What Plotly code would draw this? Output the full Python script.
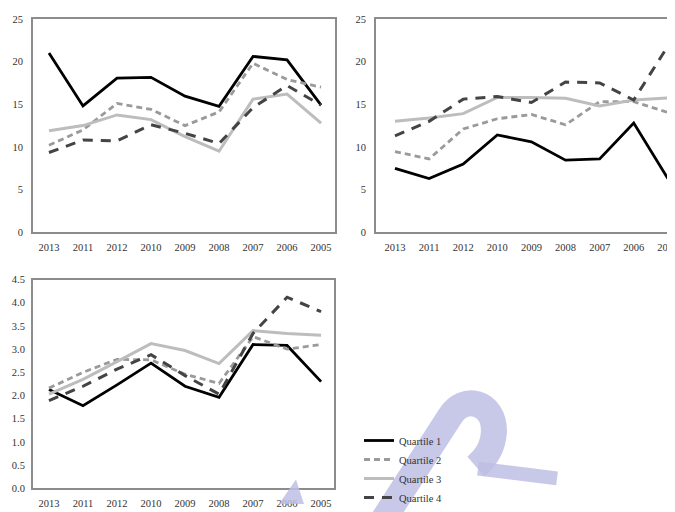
import plotly.graph_objects as go

years = ["2013", "2011", "2012", "2010", "2009", "2008", "2007", "2006", "2005"]
series_names = ["Quartile 1", "Quartile 2", "Quartile 3", "Quartile 4"]

# Panel A (top left)
a_q1 = [21.0, 14.8, 18.05, 18.15, 15.95, 14.75, 20.6, 20.2, 14.9]
a_q2 = [10.2, 12.0, 15.1, 14.4, 12.5, 14.1, 19.8, 17.9, 17.0]
a_q3 = [11.9, 12.5, 13.75, 13.2, 11.2, 9.5, 15.6, 16.2, 12.8]
a_q4 = [9.35, 10.8, 10.7, 12.6, 11.6, 10.4, 14.6, 17.2, 14.9]

# Panel B (top right)
b_q1 = [7.5, 6.3, 8.0, 11.4, 10.6, 8.45, 8.6, 12.8, 6.3]
b_q2 = [9.45, 8.6, 12.1, 13.3, 13.8, 12.6, 15.3, 15.3, 14.05]
b_q3 = [13.0, 13.4, 13.9, 15.8, 15.8, 15.7, 14.8, 15.5, 15.75]
b_q4 = [11.3, 13.0, 15.6, 15.9, 15.2, 17.6, 17.5, 15.5, 21.8]

# Panel C (bottom left)
c_q1 = [2.13, 1.78, 2.23, 2.70, 2.20, 1.96, 3.10, 3.08, 2.30]
c_q2 = [2.16, 2.50, 2.78, 2.77, 2.46, 2.26, 3.27, 3.00, 3.10]
c_q3 = [2.03, 2.35, 2.73, 3.12, 2.97, 2.69, 3.40, 3.34, 3.30]
c_q4 = [1.89, 2.20, 2.57, 2.88, 2.43, 2.03, 3.34, 4.12, 3.81]

ab_yticks = [0, 5, 10, 15, 20, 25]
c_yticks = [0.0, 0.5, 1.0, 1.5, 2.0, 2.5, 3.0, 3.5, 4.0, 4.5]
c_yticktext = ["0.0", "0.5", "1.0", "1.5", "2.0", "2.5", "3.0", "3.5", "4.0", "4.5"]

styles = [
    dict(color="#000000", width=2.8, dash="solid"),
    dict(color="#9a9a9a", width=2.8, dash="6px,4px"),
    dict(color="#bdbdbd", width=3.0, dash="solid"),
    dict(color="#444444", width=3.0, dash="10px,8px"),
]

# the page body adds an 8px offset, so the figure is 8px smaller
OFF = 8
W, H = 675 - OFF, 512 - OFF
def px(x):
    return (x - OFF) / W
def py(y):
    return 1 - (y - OFF) / H

fig = go.Figure()
panels = [
    ("x", "y", [a_q1, a_q2, a_q3, a_q4], True),
    ("x2", "y2", [b_q1, b_q2, b_q3, b_q4], False),
    ("x3", "y3", [c_q1, c_q2, c_q3, c_q4], False),
]
for xa, ya, data, show in panels:
    for name, vals, st in zip(series_names, data, styles):
        fig.add_trace(go.Scatter(
            x=years, y=vals, mode="lines", name=name, xaxis=xa, yaxis=ya,
            line=st, showlegend=show,
        ))

font = dict(family="Liberation Serif, Times New Roman, serif", size=10.5, color="#333333")
axis_common = dict(
    showline=True, mirror=True, linecolor="#8c8c8c", linewidth=2,
    showgrid=False, zeroline=False, ticks="", automargin=False,
    tickfont=font, fixedrange=True,
)

fig.update_layout(
    width=W, height=H, template="none",
    paper_bgcolor="white", plot_bgcolor="white",
    margin=dict(l=0, r=0, t=0, b=0),
    font=font,
    xaxis=dict(axis_common, type="category", domain=[px(33), px(335)], range=[-0.47, 8.41],
               anchor="y", ticklabelstandoff=4),
    yaxis=dict(axis_common, domain=[py(236), py(19)], range=[0, 25], tickvals=ab_yticks,
               anchor="x", ticklabelstandoff=6),
    xaxis2=dict(axis_common, type="category", domain=[px(376), 1.0], range=[-0.557, 8.21],
                anchor="y2", ticklabelstandoff=4),
    yaxis2=dict(axis_common, domain=[py(236), py(19)], range=[0, 25], tickvals=ab_yticks,
                anchor="x2", ticklabelstandoff=6),
    xaxis3=dict(axis_common, type="category", domain=[px(33), px(334)], range=[-0.47, 8.38],
                anchor="y3", ticklabelstandoff=4),
    yaxis3=dict(axis_common, domain=[py(496), py(284)], range=[0, 4.5], tickvals=c_yticks,
                ticktext=c_yticktext, anchor="x3", ticklabelstandoff=4),
    legend=dict(x=px(359), y=py(433), xanchor="left", yanchor="top",
                bgcolor="rgba(0,0,0,0)", font=font, tracegroupgap=0),
)

# faint watermark overlay
wm = "rgba(190,190,228,0.85)"
fig.add_shape(type="path", xref="paper", yref="paper", layer="above",
              path=f"M {px(382)},{py(530)} L {px(450)},{py(423)} "
                   f"C {px(464)},{py(400)} {px(494)},{py(408)} {px(494)},{py(438)} "
                   f"C {px(493)},{py(456)} {px(485)},{py(466)} {px(476)},{py(474)}",
              line=dict(color=wm, width=26))
fig.add_shape(type="path", xref="paper", yref="paper", layer="above",
              path=f"M {px(478)},{py(476)} L {px(557)},{py(486)}",
              line=dict(color=wm, width=14))
fig.add_shape(type="path", xref="paper", yref="paper", layer="above",
              path=f"M {px(279)},{py(512)} L {px(296)},{py(487)} L {px(304)},{py(512)} Z",
              fillcolor=wm, line=dict(width=0))

fig.write_html("out.html")
